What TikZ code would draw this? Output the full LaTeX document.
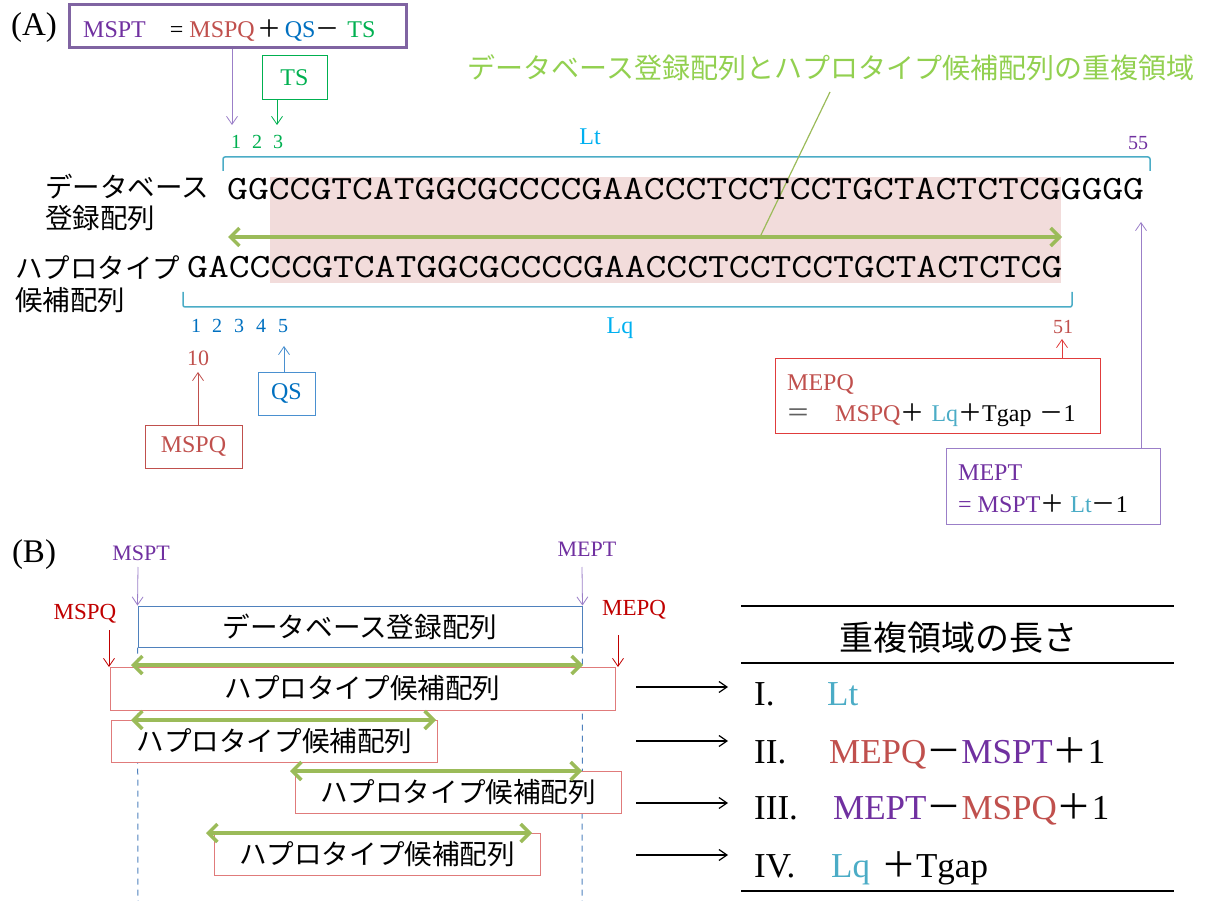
\documentclass[tikz,border=0pt]{standalone}
\usepackage{fontspec}
\setmainfont{Liberation Serif}
\newfontfamily\jpfont{Noto Sans CJK JP}
\usetikzlibrary{arrows.meta}
\newcommand{\fsz}[1]{\fontsize{#1pt}{#1pt}\selectfont}
\newcommand{\jp}[1]{{\jpfont #1}}
\newcommand{\seqtxt}[1]{\scalebox{1.19}[1]{#1}}
\definecolor{cpurple}{HTML}{7030A0}
\definecolor{bpurple}{HTML}{8064A2}
\definecolor{apurple}{HTML}{9B7FC8}
\definecolor{cred}{HTML}{C0504D}
\definecolor{bred}{HTML}{E03C3C}
\definecolor{dred}{HTML}{C00000}
\definecolor{cblue}{HTML}{0070C0}
\definecolor{bblue}{HTML}{4A90D0}
\definecolor{cgreen}{HTML}{00B050}
\definecolor{ccyan}{HTML}{4BACC6}
\definecolor{scyan}{HTML}{00B0F0}
\definecolor{lgreen}{HTML}{92D050}
\definecolor{ogreen}{HTML}{9BBB59}
\definecolor{hpink}{HTML}{F2DCDB}
\definecolor{dblue}{HTML}{4F81BD}
\definecolor{lred}{HTML}{E07B7B}
\definecolor{eqgray}{HTML}{606060}
\tikzset{
  lbl/.style={inner sep=0pt},
  thinarr/.style={-{Straight Barb[length=8pt,width=11pt]}, line width=0.8pt},
  garr/.style={{Straight Barb[length=9pt,width=18pt]}-{Straight Barb[length=9pt,width=18pt]}, line width=3.5pt, draw=ogreen},
  bracket/.style={draw=ccyan, line width=1.5pt, rounded corners=2pt},
  cand/.style={draw=lred, fill=white, line width=1pt, minimum width=326pt, minimum height=42pt, inner sep=0pt, font=\jpfont\fsz{27.6}},
  dashv/.style={draw=dblue, line width=1pt, dash pattern=on 6pt off 5pt},
  seq/.style={inner sep=0pt, anchor=base west, font=\ttfamily\fsz{34}},
  rowtxt/.style={inner sep=0pt, anchor=base west, font=\fsz{35}}
}
\begin{document}
\begin{tikzpicture}[x=1pt,y=-1pt]
\useasboundingbox (0,0) rectangle (1205,901);
% ---------------- (A) ----------------
\fill[hpink] (270,177) rectangle (1061,283);
\node[lbl, font=\fsz{33}] (labA) at (34,28) {(A)};
\node[draw=bpurple, line width=3pt, minimum width=337pt, minimum height=43pt, inner sep=0pt] (fbox) at (237.5,26.5) {};
\node[lbl, anchor=base west, font=\fsz{24}] (ftext) at (83,38) {\textcolor{cpurple}{MSPT}\hspace{24pt}=\hspace{6pt}\textcolor{cred}{MSPQ}\hspace{3pt}\jp{＋}\hspace{3pt}\textcolor{cblue}{QS}\jp{－}\hspace{8pt}\textcolor{cgreen}{TS}};
\node[draw=cgreen, line width=1pt, minimum width=65pt, minimum height=44pt, inner sep=0pt, text=cgreen, font=\fsz{24}] (tsbox) at (294.5,78) {TS};
\coordinate (msptTip) at (232,125);
\coordinate (tsTip) at (277,125);
\draw[thinarr, apurple] (msptTip |- fbox.south) -- (msptTip);
\draw[thinarr, cgreen] (tsTip |- tsbox.south) -- (tsTip);
\node[lbl, text=cgreen, font=\fsz{20}] (t1) at (236,142) {1};
\node[lbl, text=cgreen, font=\fsz{20}] (t2) at (257,142) {2};
\node[lbl, text=cgreen, font=\fsz{20}] (t3) at (278,142) {3};
\draw[bracket] (223,171) -- (223,157) -- (1150,157) -- (1150,171);
\node[lbl, text=scyan, font=\fsz{24}] (lt) at (590,137) {Lt};
\node[lbl, text=cpurple, font=\fsz{20}] (n55) at (1138,143) {55};
% callout
\node[lbl, text=lgreen, font=\jpfont\fsz{28}] (callout) at (831,68) {データベース登録配列とハプロタイプ候補配列の重複領域};
\coordinate (clTop) at (830,92);
\coordinate (clBot) at (760,237);
\draw[ogreen, line width=1.2pt] (clTop) -- (clBot);
% sequences
\node[seq] (seq1) at (227,200) {\seqtxt{GGCCGTCATGGCGCCCCGAACCCTCCTCCTGCTACTCTCGGGGG}};
\node[seq] (seq2) at (187,278) {\seqtxt{GACCCCGTCATGGCGCCCCGAACCCTCCTCCTGCTACTCTCG}};
\node[lbl, anchor=west, font=\jpfont\fsz{27.5}] (db1) at (45,187) {データベース};
\node[lbl, anchor=west, font=\jpfont\fsz{27.5}] (db2) at (45,218) {登録配列};
\node[lbl, anchor=west, font=\jpfont\fsz{27.5}] (hp1) at (15,268) {ハプロタイプ};
\node[lbl, anchor=west, font=\jpfont\fsz{27.5}] (hp2) at (15,300) {候補配列};
\coordinate (ovL) at (228,237);
\coordinate (ovR) at (1062,237);
\draw[garr] (ovL) -- (ovR);
\draw[bracket] (183,292) -- (183,307) -- (1072,307) -- (1072,292);
\node[lbl, text=cblue, font=\fsz{20}] (q1) at (196,326) {1};
\node[lbl, text=cblue, font=\fsz{20}] (q2) at (217,326) {2};
\node[lbl, text=cblue, font=\fsz{20}] (q3) at (239,326) {3};
\node[lbl, text=cblue, font=\fsz{20}] (q4) at (261,326) {4};
\node[lbl, text=cblue, font=\fsz{20}] (q5) at (283,326) {5};
\node[lbl, text=scyan, font=\fsz{24}] (lq) at (620,328) {Lq};
\node[lbl, text=cred, font=\fsz{20}] (n51) at (1063,327) {51};
\node[lbl, text=cred, font=\fsz{22}] (n10) at (198,358) {10};
% MSPQ / QS boxes
\node[draw=cred, line width=1pt, minimum width=97pt, minimum height=43pt, inner sep=0pt, text=cred, font=\fsz{24}] (mspqbox) at (193.5,446.5) {MSPQ};
\coordinate (mspqTip) at (198,372);
\draw[thinarr, cred] (mspqTip |- mspqbox.north) -- (mspqTip);
\node[draw=bblue, line width=1pt, minimum width=57pt, minimum height=43pt, inner sep=0pt, text=cblue, font=\fsz{24}] (qsbox) at (286.5,393.5) {QS};
\coordinate (qsTip) at (284,346);
\draw[thinarr, bblue] (qsTip |- qsbox.north) -- (qsTip);
% MEPQ box
\node[draw=bred, line width=1pt, minimum width=325pt, minimum height=75pt, inner sep=0pt] (mepqbox) at (937.5,395.5) {};
\node[lbl, anchor=base west, text=cred, font=\fsz{24}] (mepq1) at (787,390) {MEPQ};
\node[lbl, anchor=base west, font=\fsz{24}] (mepq2) at (786,421) {\textcolor{eqgray}{\jp{＝}}\hspace{25pt}\textcolor{cred}{MSPQ}\jp{＋}\hspace{7pt}\textcolor{ccyan}{Lq}\jp{＋}Tgap\hspace{8pt}\jp{－}1};
\coordinate (mepqTip) at (1062,339);
\draw[thinarr, bred] (mepqTip |- mepqbox.north) -- (mepqTip);
% MEPT box
\node[draw=apurple, line width=1pt, minimum width=214pt, minimum height=76pt, inner sep=0pt] (meptbox) at (1053,486) {};
\node[lbl, anchor=base west, text=cpurple, font=\fsz{24}] (mept1) at (958,480) {MEPT};
\node[lbl, anchor=base west, font=\fsz{24}] (mept2) at (958,512) {\textcolor{cpurple}{= MSPT}\jp{＋}\hspace{6pt}\textcolor{ccyan}{Lt}\jp{－}1};
\coordinate (meptTip) at (1141,222);
\draw[thinarr, apurple] (meptTip |- meptbox.north) -- (meptTip);
% ---------------- (B) ----------------
\node[lbl, font=\fsz{33}] (labB) at (34,555) {(B)};
\node[lbl, text=cpurple, font=\fsz{22}] (bmspt) at (141,553) {MSPT};
\node[lbl, text=cpurple, font=\fsz{22}] (bmept) at (587,549) {MEPT};
\node[lbl, text=dred, font=\fsz{23}] (bmspq) at (85,614) {MSPQ};
\node[lbl, text=dred, font=\fsz{23}] (bmepq) at (634,610) {MEPQ};
\node[draw=dblue, line width=1pt, minimum width=444pt, minimum height=41pt, inner sep=0pt, font=\jpfont\fsz{27.6}] (dbbox) at (360,626.5) {データベース登録配列};
\coordinate (dashLend) at (138,901);
\coordinate (dashRend) at (582,901);
\draw[dashv] (dbbox.south west) -- (dashLend);
\draw[dashv] (dbbox.south east) -- (dashRend);
\coordinate (bmsptS) at (138,567);
\coordinate (bmeptS) at (582,567);
\draw[thinarr, apurple] (bmsptS) -- (dbbox.north west);
\draw[thinarr, apurple] (bmeptS) -- (dbbox.north east);
\node[cand, minimum width=505pt, minimum height=43pt] (c1) at (362.5,688.5) {ハプロタイプ候補配列};
\node[cand] (c2) at (274.5,741) {ハプロタイプ候補配列};
\node[cand] (c3) at (458,792) {ハプロタイプ候補配列};
\node[cand] (c4) at (377,854) {ハプロタイプ候補配列};
\coordinate (bmspqS) at (109,630);
\coordinate (bmspqE) at (109,667);
\coordinate (bmepqS) at (618,635);
\coordinate (bmepqE) at (618,667);
\draw[thinarr, dred] (bmspqS) -- (bmspqE);
\draw[thinarr, dred] (bmepqS) -- (bmepqE);
\coordinate (g1L) at (131,665); \coordinate (g1R) at (583,665);
\coordinate (g2L) at (131,720); \coordinate (g2R) at (436,720);
\coordinate (g3L) at (290,771); \coordinate (g3R) at (582,771);
\coordinate (g4L) at (206,833); \coordinate (g4R) at (532,833);
\draw[garr] (g1L) -- (g1R);
\draw[garr] (g2L) -- (g2R);
\draw[garr] (g3L) -- (g3R);
\draw[garr] (g4L) -- (g4R);
% right arrows
\coordinate (r1s) at (636,687); \coordinate (r1e) at (728,687);
\coordinate (r2s) at (636,741); \coordinate (r2e) at (728,741);
\coordinate (r3s) at (636,803); \coordinate (r3e) at (728,803);
\coordinate (r4s) at (636,855); \coordinate (r4e) at (728,855);
\draw[thinarr, black, line width=1.2pt] (r1s) -- (r1e);
\draw[thinarr, black, line width=1.2pt] (r2s) -- (r2e);
\draw[thinarr, black, line width=1.2pt] (r3s) -- (r3e);
\draw[thinarr, black, line width=1.2pt] (r4s) -- (r4e);
% table
\coordinate (tl1a) at (741,606); \coordinate (tl1b) at (1174,606);
\coordinate (tl2a) at (741,663); \coordinate (tl2b) at (1174,663);
\coordinate (tl3a) at (741,891); \coordinate (tl3b) at (1174,891);
\draw[line width=1.5pt] (tl1a) -- (tl1b);
\draw[line width=1.5pt] (tl2a) -- (tl2b);
\draw[line width=1.5pt] (tl3a) -- (tl3b);
\node[lbl, font=\jpfont\fsz{34}] (ttitle) at (958,638) {重複領域の長さ};
\node[rowtxt] (r1a) at (754,705) {I.};
\node[rowtxt, text=ccyan] (r1b) at (827,705) {Lt};
\node[rowtxt] (r2a) at (754,763) {II.};
\node[rowtxt] (r2b) at (829,763) {\textcolor{cred}{MEPQ}\jp{－}\textcolor{cpurple}{MSPT}\jp{＋}1};
\node[rowtxt] (r3a) at (754,819) {III.};
\node[rowtxt] (r3b) at (833,819) {\textcolor{cpurple}{MEPT}\jp{－}\textcolor{cred}{MSPQ}\jp{＋}1};
\node[rowtxt] (r4a) at (754,877) {IV.};
\node[rowtxt] (r4b) at (831,877) {\textcolor{ccyan}{Lq}\hspace{11pt}\jp{＋}Tgap};
\end{tikzpicture}
\end{document}
